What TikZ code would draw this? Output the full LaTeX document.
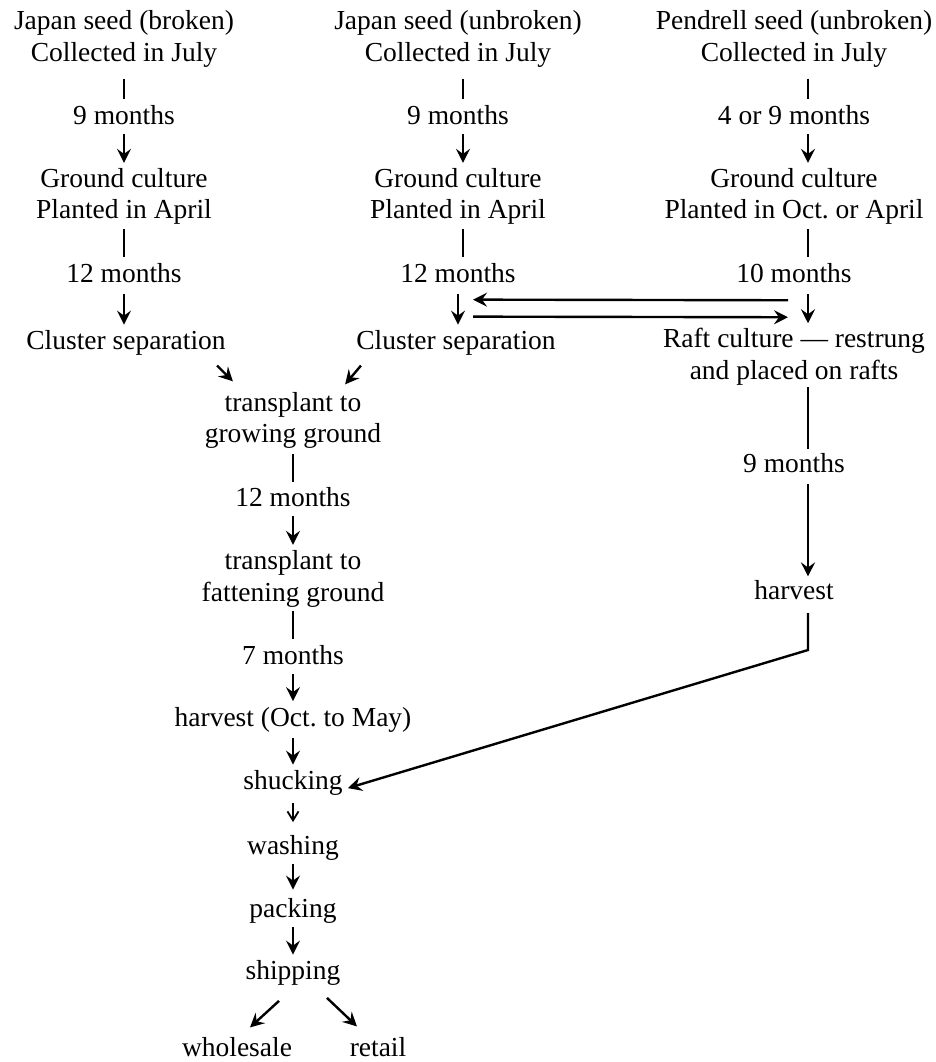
\documentclass[tikz,border=0pt]{standalone}
\usepackage{fontspec}
\setmainfont{Liberation Serif}
\usetikzlibrary{arrows.meta}
\tikzset{
    stage/.style={
        align=center,
        inner sep=0pt,
        yshift=-1.5pt,
        font=\fontsize{13.75}{15.75}\selectfont
    },
    link/.style={
        line width=1.2pt,
        shorten <=4.5pt,
        shorten >=2.5pt
    },
    flow/.style={
        link,
        -{Stealth[length=7pt,width=7pt,inset=2.5pt]}
    }
}

\begin{document}
\begin{tikzpicture}[x=0.5pt,y=-0.5pt]
		\useasboundingbox (0,0) rectangle (936,1062);

		% Japan seed, broken
		\node[stage] (seedA) at (124,36) {Japan seed (broken)\\Collected in July};
		\node[stage] (waitA) at (124,112) {9 months};
		\node[stage] (groundA) at (124,193.5) {Ground culture\\Planted in April};
		\node[stage] (growA) at (124,270) {12 months};
		\node[stage] (clusterA) at (126,340) {Cluster separation};

		\draw[link, shorten <=5.5pt, shorten >=2.75pt] (seedA) -- (waitA);
		\draw[flow] (waitA) -- (groundA);
		\draw[link, shorten <=2pt, shorten >=2.75pt] (groundA.south) -- (groundA.south |- growA.north);
		\draw[flow, shorten <=5.5pt, shorten >=2.75pt] (growA.south) -- (growA.south |- clusterA.north);

		% Japan seed, unbroken
		\node[stage] (seedB) at (458,36) {Japan seed (unbroken)\\Collected in July};
		\node[stage] (waitB) at (458,112) {9 months};
		\node[stage] (groundB) at (458,193.5) {Ground culture\\Planted in April};
		\node[stage] (growB) at (458,270) {12 months};
		\node[stage] (clusterB) at (456,340) {Cluster separation};

		\draw[link, shorten <=5.5pt, shorten >=2.75pt] ([xshift=2.5pt]seedB.south) -- ([xshift=2.5pt]waitB.north);
		\draw[flow] ([xshift=2.5pt]waitB.south) -- ([xshift=2.5pt]groundB.north);
		\draw[link, shorten <=2pt, shorten >=2.75pt] ([xshift=2.5pt]groundB.south) -- ([xshift=2.5pt]growB.north);
		\draw[flow, shorten <=5.5pt, shorten >=2.75pt] (growB.south) -- (growB.south |- clusterB.north);

		% Pendrell seed, unbroken
		\node[stage] (seedC) at (794,36) {Pendrell seed (unbroken)\\Collected in July};
		\node[stage] (waitC) at (794,112) {4 or 9 months};
		\node[stage] (groundC) at (794,193.5) {Ground culture\\Planted in Oct.\ or April};
		\node[stage] (growC) at (794,270) {10 months};
		\node[stage] (raftC) at (794,353.5) {Raft culture --- restrung\\and placed on rafts};
		\node[stage] (floatC) at (794,460) {9 months};
		\node[stage] (harvestC) at (794,587) {harvest};
		\coordinate (bend) at (808,650);

		\draw[link, shorten <=5.5pt, shorten >=2.75pt] ([xshift=7pt]seedC.south) -- ([xshift=7pt]waitC.north);
		\draw[flow] ([xshift=7pt]waitC.south) -- ([xshift=7pt]groundC.north);
		\draw[link, shorten <=2pt, shorten >=2.75pt] ([xshift=7pt]groundC.south) -- ([xshift=7pt]growC.north);
		\draw[flow, shorten <=5.5pt, shorten >=2.25pt] ([xshift=7pt]growC.south) -- ([xshift=7pt]raftC.north);
		\draw[link, shorten <=1pt, shorten >=1.75pt] ([xshift=7pt]raftC.south) -- ([xshift=7pt]floatC.north);
		\draw[flow, shorten <=5.5pt, shorten >=1.75pt] ([xshift=7pt]floatC.south) -- ([xshift=7pt]harvestC.north);

		% Swap between cluster separation and rafts
		\draw[flow, shorten <=0pt, shorten >=0pt] ([shift={(-6,-27.5)}]raftC.north) -- ([shift={(17,-30.5)}]clusterB.north);
		\draw[flow, shorten <=0pt, shorten >=0pt] ([shift={(17,-13.5)}]clusterB.north) -- ([shift={(-6,-10.5)}]raftC.north);

		% Common line
		\node[stage] (transA) at (293,417.5) {transplant to\\growing ground};
		\node[stage] (growM) at (293,494) {12 months};
		\node[stage] (transB) at (293,576) {transplant to\\fattening ground};
		\node[stage] (fatM) at (293,652) {7 months};
		\node[stage] (harvestM) at (293,717) {harvest (Oct.\ to May)};
		\node[stage] (shuck) at (293,780) {shucking};
		\node[stage] (wash) at (293,845) {washing};
		\node[stage] (pack) at (293,908) {packing};
		\node[stage] (ship) at (293,970) {shipping};
		\node[stage] (whole) at (237,1044) {wholesale};
		\node[stage] (retail) at (378,1044) {retail};

		\draw[flow, shorten <=0pt, shorten >=0pt] ([shift={(-9,9.7)}]clusterA.south east) -- ([shift={(28.5,-10.5)}]transA.north west);
		\draw[flow, shorten <=0pt, shorten >=0pt] ([shift={(5,9.7)}]clusterB.south west) -- ([shift={(-36.5,-7.5)}]transA.north east);
		\draw[link, shorten <=2.5pt, shorten >=2.25pt] (transA) -- (growM);
		\draw[flow, shorten <=4.5pt, shorten >=2.75pt] (growM) -- (transB);
		\draw[link, shorten <=1.5pt, shorten >=2.75pt] (transB) -- (fatM);
		\draw[flow, shorten <=4.5pt, shorten >=3pt] (fatM) -- (harvestM);
		\draw[flow, shorten <=2.5pt, shorten >=2.75pt] (harvestM) -- (shuck);
		\draw[line width=0.9pt, shorten <=3.5pt, shorten >=6.5pt, -{Straight Barb[length=4.5pt,width=5.5pt]}] (shuck) -- (wash);
		\draw[flow, shorten <=1.5pt, shorten >=4.25pt] (wash) -- (pack);
		\draw[flow, shorten <=1.75pt, shorten >=2.75pt] (pack) -- (ship);
		\draw[flow, shorten <=0pt, shorten >=0pt] ([shift={(-14,15)}]ship.south) -- ([shift={(13,-9.5)}]whole.north);
		\draw[flow, shorten <=0pt, shorten >=0pt] ([shift={(34,12)}]ship.south) -- ([shift={(-21,-10.5)}]retail.north);

		% Raft harvest joins at shucking
		\draw[flow, shorten <=6.5pt, shorten >=2.5pt] ([xshift=7pt]harvestC.south) -- (bend) -- (shuck.base east);
\end{tikzpicture}
\end{document}
